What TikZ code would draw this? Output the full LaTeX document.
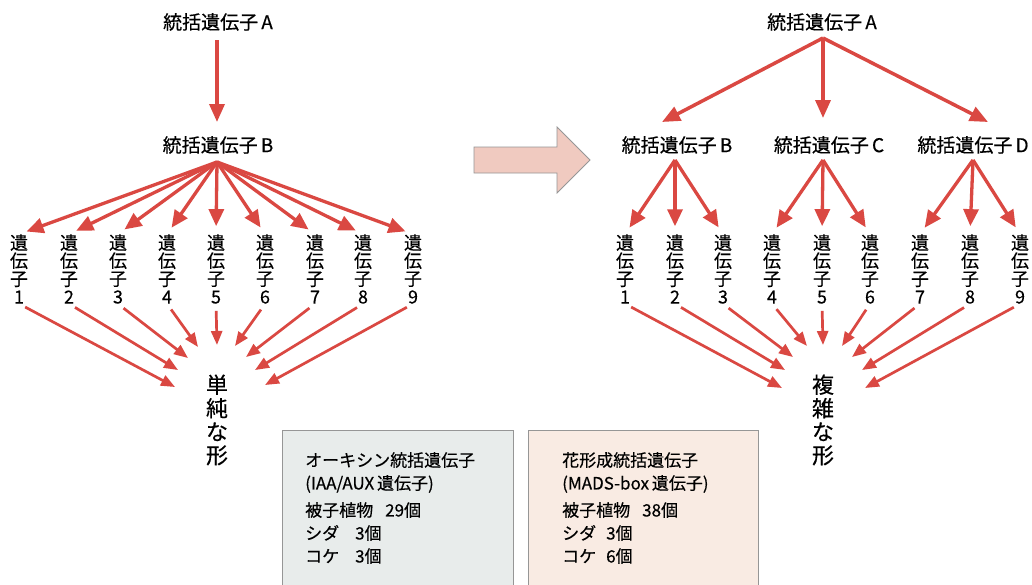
\documentclass[tikz,border=0pt]{standalone}
\usepackage{fontspec}
\setmainfont{Noto Sans CJK JP}[FakeBold=0.4]
\usetikzlibrary{arrows.meta,calc}
\definecolor{arr}{RGB}{218,72,66}
\definecolor{blk}{RGB}{240,202,192}
\definecolor{boxL}{RGB}{232,236,235}
\definecolor{boxR}{RGB}{249,235,227}
\definecolor{edgegray}{RGB}{150,150,150}
\begin{document}
\begin{tikzpicture}[x=1pt,y=-1pt,
  title/.style={inner sep=0pt, font=\fontsize{19}{20}\selectfont},
  gene/.style={inner sep=0pt, align=center, font=\fontsize{18}{18}\selectfont},
  form/.style={inner sep=0pt, align=center, font=\fontsize{22}{23.5}\selectfont},
  boxtext/.style={inner sep=0pt, anchor=north west, align=left, font=\fontsize{17}{23}\selectfont},
  big/.style={draw=arr, line width=3.5pt, -{Triangle[length=18pt,width=15pt]}},
  fan/.style={draw=arr, line width=3.3pt, -{Triangle[length=17pt,width=15pt]}, shorten >=8pt},
  small/.style={draw=arr, line width=2.7pt, -{Triangle[length=14pt,width=11pt]}, shorten <=7pt},
  panel/.style={draw=edgegray, line width=0.8pt}
]
\useasboundingbox (0,0) rectangle (1032,584);
\fill[white] (0,0) rectangle (1032,584);

% ---------------- left tree ----------------
\node[title] (LA) at (218,22) {統括遺伝子\,A};
\node[title] (LB) at (218,145) {統括遺伝子\,B};
\coordinate (LAo) at (217,40);
\coordinate (LBt) at (217,122);
\draw[big] (LAo) -- (LBt);
\coordinate (LBf) at (217,162);

\foreach \i/\x in {1/19,2/69,3/118,4/167,5/216,6/265,7/315,8/363,9/413}{
  \node[gene] (Lg\i) at (\x,269) {遺\\伝\\子\\\i};
}
\foreach \i in {1,...,9}{ \draw[fan] (LBf) -- (Lg\i.north); }

\node[form] (Lform) at (217,420) {単\\純\\な\\形};
\foreach \i/\p in {1/{175,387},2/{178,370},3/{188,358},4/{198,347},5/{217,345},6/{235,346},7/{246,357},8/{255,370},9/{265,385}}{
  \coordinate (Lt\i) at (\p);
  \draw[small] (Lg\i.south) -- (Lt\i);
}

% ---------------- block arrow ----------------
\node[inner sep=0pt, minimum size=0pt] (blockarrow) at (532,160) {};
\filldraw[fill=blk, draw=edgegray, line width=0.8pt]
  (474,147) -- (557,147) -- (557,127) -- (590,160) -- (557,193) -- (557,173) -- (474,173) -- cycle;

% ---------------- right tree ----------------
\node[title] (RA) at (822,22) {統括遺伝子\,A};
\node[title] (RB) at (677,145) {統括遺伝子\,B};
\node[title] (RC) at (829,145) {統括遺伝子\,C};
\node[title] (RD) at (973,145) {統括遺伝子\,D};
\coordinate (RAo) at (823,38);
\coordinate (RBt) at (662,122);
\coordinate (RCt) at (823,118);
\coordinate (RDt) at (988,122);
\draw[big] (RAo) -- (RBt);
\draw[big] (RAo) -- (RCt);
\draw[big] (RAo) -- (RDt);
\coordinate (RBf) at (675,160);
\coordinate (RCf) at (823,160);
\coordinate (RDf) at (973,160);

\foreach \i/\x in {1/625,2/675,3/723,4/772,5/822,6/870,7/920,8/970,9/1020}{
  \node[gene] (Rg\i) at (\x,269) {遺\\伝\\子\\\i};
}
\foreach \i in {1,2,3}{ \draw[fan] (RBf) -- (Rg\i.north); }
\foreach \i in {4,5,6}{ \draw[fan] (RCf) -- (Rg\i.north); }
\foreach \i in {7,8,9}{ \draw[fan] (RDf) -- (Rg\i.north); }

\node[form] (Rform) at (823,420) {複\\雑\\な\\形};
\foreach \i/\p in {1/{782,388},2/{785,370},3/{793,357},4/{807,346},5/{823,345},6/{842,346},7/{852,357},8/{862,370},9/{865,388}}{
  \coordinate (Rt\i) at (\p);
  \draw[small] (Rg\i.south) -- (Rt\i);
}

% ---------------- boxes ----------------
\filldraw[panel, fill=boxL] (282,430) rectangle (513,590);
\filldraw[panel, fill=boxR] (528,430) rectangle (758,590);
\node[boxtext] (auxin) at (305,452) {オーキシン統括遺伝子\\(IAA/AUX\,遺伝子)\\[4pt]被子植物\hspace{12pt}29個\\シダ\hspace{16pt}3個\\コケ\hspace{16pt}3個};
\node[boxtext] (mads) at (562,452) {花形成統括遺伝子\\(MADS-box\,遺伝子)\\[4pt]被子植物\hspace{12pt}38個\\シダ\hspace{10pt}3個\\コケ\hspace{10pt}6個};
\end{tikzpicture}
\end{document}
